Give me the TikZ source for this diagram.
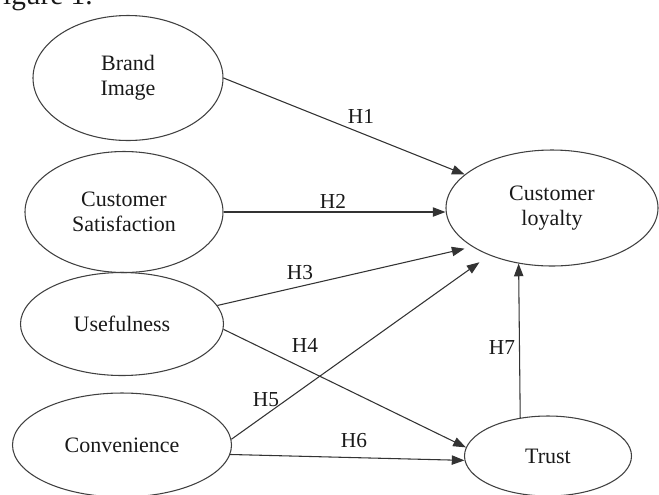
\documentclass[tikz,border=0pt]{standalone}
\usepackage{fontspec}
\setmainfont{Liberation Serif}
\usetikzlibrary{shapes.geometric,arrows.meta}
\begin{document}
\begin{tikzpicture}[x=0.75pt,y=-0.75pt,
  latent/.style={ellipse,draw=black!75,line width=0.8pt,inner sep=0pt,align=center,
    font=\fontsize{16.5}{19}\selectfont,text=black!90},
  hpath/.style={draw=black!80,line width=0.8pt,-{Triangle[length=9.5pt,width=7pt]}},
  hlab/.style={font=\fontsize{16}{19}\selectfont,text=black!90,inner sep=0pt}]
\useasboundingbox (0,0) rectangle (659,494);
\node[anchor=base east,font=\fontsize{22}{26}\selectfont,text=black!90,inner sep=0pt] (cap) at (93,4) {Figure 1.};
\node[latent,minimum width=142.5pt,minimum height=93.75pt] (brand) at (128,78) {Brand\\Image};
\node[latent,minimum width=148.5pt,minimum height=90.75pt] (sat) at (124,212) {Customer\\Satisfaction};
\node[latent,minimum width=152.25pt,minimum height=77.25pt] (use) at (122,324) {Usefulness};
\node[latent,minimum width=164.25pt,minimum height=78pt] (conv) at (122,445) {Convenience};
\node[latent,minimum width=159pt,minimum height=87pt] (loyal) at (552,208) {Customer\\loyalty};
\node[latent,minimum width=125.25pt,minimum height=60pt] (trust) at (548,456) {Trust};
\draw[hpath] (brand.east) -- (loyal.159);
\draw[hpath] (sat.east) -- (sat.east -| loyal.west);
\draw[hpath,shorten >=6pt] (use.11) -- (loyal.206);
\draw[hpath] (use.-3) -- (trust.174);
\draw[hpath,shorten >=9pt] (conv.3) -- (loyal.217);
\draw[hpath] (conv.-5) -- (trust.183);
\draw[hpath] (trust.126.6) -- (loyal.239.9);
\node[hlab] (h1) at (361,116) {H1};
\node[hlab] (h2) at (333,201) {H2};
\node[hlab] (h3) at (300,273) {H3};
\node[hlab] (h4) at (305,345) {H4};
\node[hlab] (h5) at (266,400) {H5};
\node[hlab] (h6) at (354,441) {H6};
\node[hlab] (h7) at (502,348) {H7};
\end{tikzpicture}
\end{document}
